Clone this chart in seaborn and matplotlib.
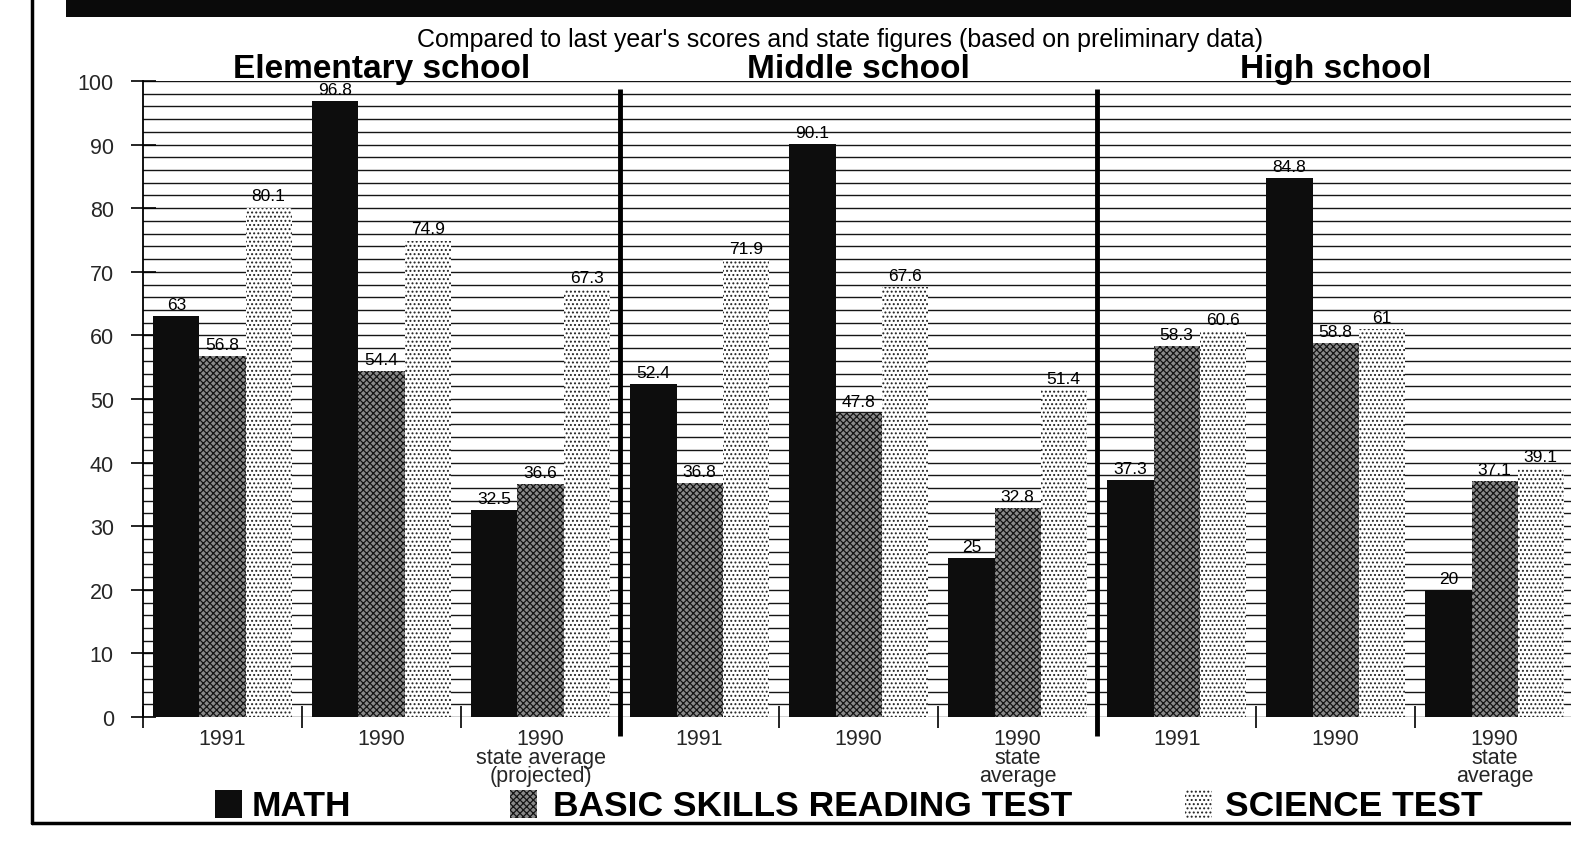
import numpy as np
import pandas as pd
import matplotlib
matplotlib.use("Agg")
import matplotlib.pyplot as plt
import seaborn as sns
from matplotlib.patches import Rectangle
from matplotlib.lines import Line2D

# ---------------- data ----------------
schools = ["Elementary school", "Middle school", "High school"]
periods = ["1991", "1990", "1990\nstate average\n(projected)",
           "1991", "1990", "1990\nstate\naverage",
           "1991", "1990", "1990\nstate\naverage"]
tests = ["MATH", "BASIC SKILLS READING TEST", "SCIENCE TEST"]
math_scores = [63, 96.8, 32.5, 52.4, 90.1, 25, 37.3, 84.8, 20]
reading_scores = [56.8, 54.4, 36.6, 36.8, 47.8, 32.8, 58.3, 58.8, 37.1]
science_scores = [80.1, 74.9, 67.3, 71.9, 67.6, 51.4, 60.6, 61, 39.1]
subtitle = "Compared to last year's scores and state figures (based on preliminary data)"
y_ticks = list(range(0, 101, 10))

# ---------------- setup ----------------
sns.set_theme(style="white")
plt.rcParams["font.family"] = ["Liberation Sans", "DejaVu Sans"]
plt.rcParams["hatch.linewidth"] = 0.9

W, H = 1571, 854
slots = [f"g{i}" for i in range(len(periods))]
df = pd.DataFrame({
    "slot": slots * 3,
    "test": np.repeat(tests, len(slots)),
    "score": math_scores + reading_scores + science_scores,
})

fig = plt.figure(figsize=(W / 100, H / 100), dpi=100)
fig.patch.set_facecolor("white")
ax = fig.add_axes([143 / W, 1 - 718 / H, 1 - 143 / W, (718 - 82) / H])

sns.barplot(data=df, x="slot", y="score", hue="test", order=slots,
            hue_order=tests, width=0.87, ax=ax, legend=False,
            saturation=1, palette=["#0d0d0d", "#8c8c8c", "#ffffff"],
            errorbar=None)

styles = [
    dict(facecolor="#0d0d0d", edgecolor="#0d0d0d", hatch=None),
    dict(facecolor="#8a8a8a", edgecolor="#151515", hatch="xxxxx"),
    dict(facecolor="#ffffff", edgecolor="#222222", hatch="...."),
]
for cont, st in zip(ax.containers, styles):
    for p in cont.patches:
        p.set_facecolor(st["facecolor"])
        p.set_edgecolor(st["edgecolor"])
        p.set_linewidth(0)
        if st["hatch"]:
            p.set_hatch(st["hatch"])
        p.set_zorder(3)
    ax.bar_label(cont, labels=[f"{v:g}" for v in cont.datavalues],
                 padding=3, fontsize=12.5, color="black", zorder=6)

ax.set_xlim(-0.5, 8.48)
ax.set_ylim(0, 100)
ax.set_axisbelow(True)
ax.set_yticks(y_ticks)
ax.set_yticks(np.arange(0, 101, 2), minor=True)
ax.yaxis.grid(True, which="both", color="#151515", lw=1.0)
ax.xaxis.grid(False)
ax.tick_params(axis="y", which="major", direction="inout", length=18,
               width=1.2, color="black", labelsize=15.5, pad=12,
               left=True)
ax.tick_params(axis="y", which="minor", length=0)

ax.set_xticks(range(len(periods)))
ax.set_xticklabels(periods, fontsize=15.5, linespacing=0.85)
ax.set_xticks([-0.5, 0.5, 1.5, 3.5, 4.5, 6.5, 7.5], minor=True)
ax.tick_params(axis="x", which="major", length=0, pad=8)
ax.tick_params(axis="x", which="minor", direction="inout", length=16,
               width=1.2, color="black", bottom=True)
ax.set_xlabel("")
ax.set_ylabel("")
for s in ["top", "right", "bottom"]:
    ax.spines[s].set_visible(False)
ax.spines["left"].set_color("black")
ax.spines["left"].set_linewidth(1.3)

# panel separators
for xs in [2.5, 5.5]:
    ax.plot([xs, xs], [-3, 98.8], color="black", lw=3.5,
            clip_on=False, zorder=7, solid_capstyle="butt")

# panel titles
for name, xc in zip(schools, [1, 4, 7]):
    ax.text(xc, 100.6, name, ha="center", va="baseline", fontsize=24,
            fontweight="bold", color="black", zorder=8, clip_on=False)

# subtitle
fig.text(840 / W, 1 - 40 / H, subtitle, ha="center", va="center",
         fontsize=18, color="black")

# frame: top band, left line, bottom line
fig.add_artist(Rectangle((66 / W, 1 - 18 / H), 1, 18 / H,
                         transform=fig.transFigure, facecolor="#0a0a0a",
                         edgecolor="none"))
fig.add_artist(Line2D([32 / W, 32 / W], [1, 1 - 824 / H],
                      transform=fig.transFigure, color="black", lw=2.5))
fig.add_artist(Line2D([32 / W, 1], [1 - 824 / H, 1 - 824 / H],
                      transform=fig.transFigure, color="black", lw=2.5))

# legend
leg_pos = [(215, 252), (510, 553), (1185, 1225)]
for (sx, tx), st, label in zip(leg_pos, styles, tests):
    r = Rectangle((sx / W, 1 - 819 / H), 27 / W, 28 / H,
                  transform=fig.transFigure, facecolor=st["facecolor"],
                  edgecolor=st["edgecolor"], lw=0)
    if st["hatch"]:
        r.set_hatch(st["hatch"])
    fig.add_artist(r)
    fig.text(tx / W, 1 - 816 / H, label, ha="left", va="baseline",
             fontsize=25.5, fontweight="bold", color="black")

fig.savefig("out.png", dpi=100, facecolor="white")
